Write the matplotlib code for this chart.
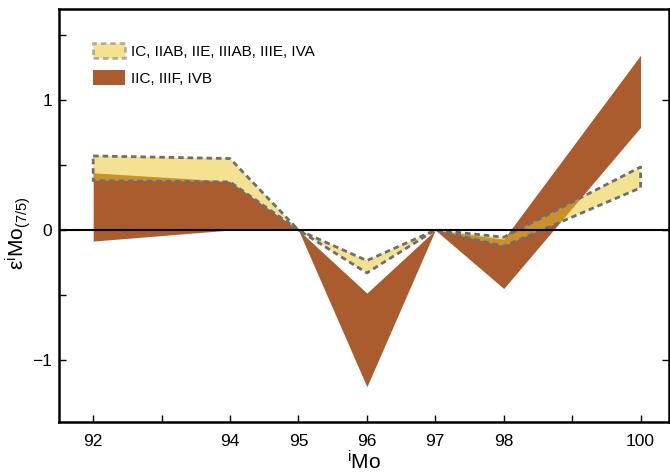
import matplotlib.pyplot as plt
from matplotlib.patches import Patch

# isotope masses
mass = [92, 94, 95, 96, 97, 98, 100]

# IC, IIAB, IIE, IIIAB, IIIE, IVA (upper / lower envelope)
nc_hi = [0.57, 0.55, 0.0, -0.235, 0.0, -0.055, 0.485]
nc_lo = [0.38, 0.37, 0.0, -0.33, 0.0, -0.125, 0.325]

# IIC, IIIF, IVB
cc_hi = [0.44, 0.375, 0.0, -0.485, 0.0, -0.07, 1.345]
cc_lo = [-0.085, 0.0, 0.0, -1.205, 0.0, -0.45, 0.79]

tick_pos = [92, 94, 95, 96, 97, 98, 100]
minor_pos = [93, 99]

labels = ["IC, IIAB, IIE, IIIAB, IIIE, IVA", "IIC, IIIF, IVB"]

BROWN = "#aa5c2e"
YELLOW = "#ebc426"
EDGE = "#6e6e6e"

plt.rcParams["font.family"] = ["Liberation Sans", "DejaVu Sans"]
plt.rcParams["mathtext.fontset"] = "custom"
plt.rcParams["mathtext.rm"] = "Liberation Sans"
plt.rcParams["mathtext.it"] = "Liberation Sans:italic"

fig = plt.figure(figsize=(6.7, 4.75), dpi=100)
ax = fig.add_axes([0.088, 0.112, 0.911, 0.869])

ax.fill_between(mass, cc_lo, cc_hi, color=BROWN, lw=0, zorder=2)
ax.fill_between(mass, nc_lo, nc_hi, facecolor=YELLOW, alpha=0.5, lw=0, zorder=3)
# dashed outline of the yellow band
outline_x = mass + mass[::-1] + [mass[0]]
outline_y = nc_hi + nc_lo[::-1] + [nc_hi[0]]
ax.plot(outline_x, outline_y, color=EDGE, lw=2, ls=(0, (2, 1.4)), zorder=4)

ax.axhline(0, color="black", lw=1.5, zorder=5)

ax.set_xlim(91.5, 100.42)
ax.set_ylim(-1.475, 1.70)

ax.set_xticks(tick_pos)
ax.set_xticks(minor_pos, minor=True)
ax.set_yticks([-1, 0, 1])
ax.set_yticklabels(["\u22121", "0", "1"])
ax.set_yticks([-0.5, 0.5, 1.5], minor=True)

ax.tick_params(which="both", direction="in", length=5, width=1, labelsize=12.5)
ax.tick_params(axis="x", pad=9)
ax.tick_params(axis="y", pad=5)
ax.tick_params(axis="y", which="major", right=True)
for s in ax.spines.values():
    s.set_linewidth(1.8)

ax.set_xlabel(r"$^{\mathrm{i}}$Mo", fontsize=15)
ax.xaxis.set_label_coords(0.5, -0.07)
ax.set_ylabel(r"$\mathrm{\epsilon}^{\mathrm{i}}\mathrm{Mo}_{(7/5)}$", fontsize=15)
ax.yaxis.set_label_coords(-0.043, 0.458)

handles = [
    Patch(facecolor=YELLOW, alpha=0.5, edgecolor=EDGE, lw=2, ls=(0, (2, 1.4))),
    Patch(facecolor=BROWN, edgecolor="none"),
]
ax.legend(handles, labels, loc="upper left", bbox_to_anchor=(0.055, 0.918),
          frameon=False, fontsize=11,
          handlelength=2.1, handleheight=1.15, labelspacing=0.75,
          handletextpad=0.45, borderpad=0, borderaxespad=0)

fig.savefig("out.png", dpi=100)
